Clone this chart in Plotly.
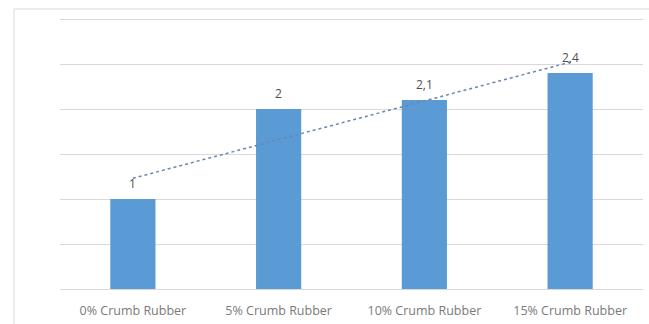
import numpy as np
import plotly.graph_objects as go

categories = ["0% Crumb Rubber", "5% Crumb Rubber", "10% Crumb Rubber", "15% Crumb Rubber"]
values = [1, 2, 2.1, 2.4]
labels = ["1", "2", "2,1", "2,4"]

xi = np.arange(len(values))
coef = np.polyfit(xi, values, 1)
trend = np.polyval(coef, xi)

fig = go.Figure()
fig.add_trace(go.Bar(x=categories, y=values, marker=dict(color="#5B9BD5", line=dict(width=0)),
                     showlegend=False, hoverinfo="skip"))
fig.add_trace(go.Scatter(x=categories, y=trend, mode="lines",
                         line=dict(color="#6a86ab", width=1.5, dash="dot"),
                         showlegend=False, hoverinfo="skip"))

for c, v, t in zip(categories, values, labels):
    fig.add_annotation(x=c, y=v, text=t, showarrow=False, yshift=16,
                       font=dict(family="Open Sans, Liberation Sans, sans-serif", size=12, color="#505050"))

fig.add_shape(type="rect", xref="paper", yref="paper", x0=-0.079, x1=1.2, y0=-0.5, y1=1.0036,
              line=dict(color="#D9D9D9", width=1), fillcolor="rgba(0,0,0,0)", layer="below")

fig.update_layout(
    width=649, height=324,
    margin=dict(l=60, r=6, t=10, b=35),
    paper_bgcolor="white", plot_bgcolor="white",
    separators=",.",
    bargap=0.69,
    xaxis=dict(showgrid=False, showline=True, linecolor="#D9D9D9", linewidth=1,
               tickfont=dict(family="Open Sans, Liberation Sans, sans-serif", size=12.5, color="#7a7a7a"),
               ticks="", ticklabelstandoff=10),
    yaxis=dict(range=[0, 3.1], tickvals=[0, 0.5, 1, 1.5, 2, 2.5, 3], showgrid=True,
               gridcolor="#D9D9D9", gridwidth=1,
               showticklabels=False, zeroline=False, showline=False),
)

fig.write_html("out.html")
